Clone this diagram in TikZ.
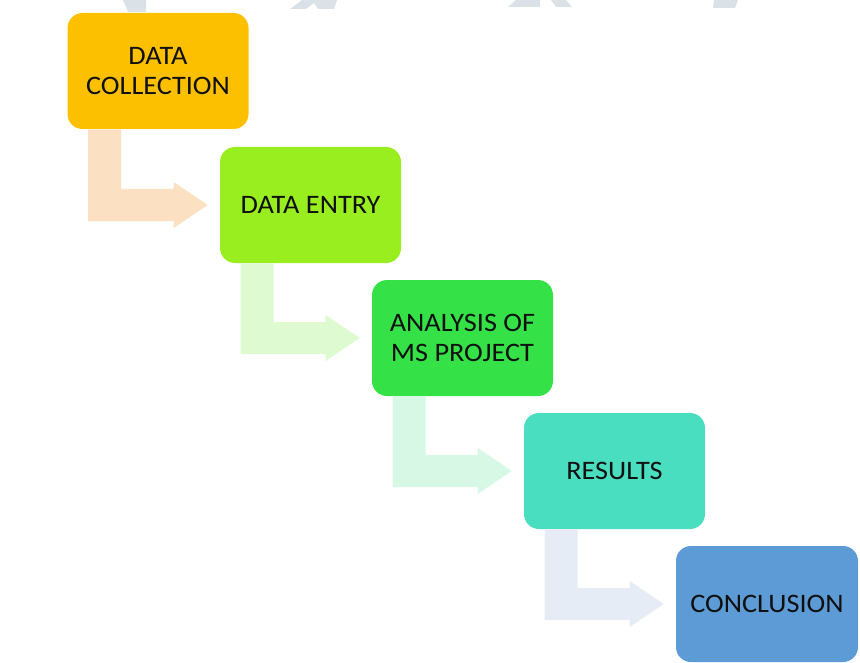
\documentclass[tikz,border=0pt]{standalone}
\usepackage{fontspec}
\setmainfont{Carlito}[FakeStretch=1.06]
\usetikzlibrary{calc}
\definecolor{cOne}{RGB}{252,192,0}
\definecolor{cTwo}{RGB}{152,238,30}
\definecolor{cThree}{RGB}{52,226,72}
\definecolor{cFour}{RGB}{74,222,192}
\definecolor{cFive}{RGB}{92,155,213}
\definecolor{aOne}{RGB}{252,224,194}
\definecolor{aTwo}{RGB}{222,250,208}
\definecolor{aThree}{RGB}{214,248,228}
\definecolor{aFour}{RGB}{230,236,246}
\definecolor{wmark}{RGB}{218,226,232}
\definecolor{txt}{RGB}{16,16,16}
\tikzset{
  stepbox/.style={rounded corners=15*0.75pt, minimum width=181*0.75pt, minimum height=116*0.75pt,
    inner sep=0pt, align=center, text=txt, font=\fontsize{20}{22.5}\selectfont},
}
\newcommand\flowarrow[3]{%
  \fill[#3] ($(#1.south west)+(21,0)$) |- ($(#2.west)+(-46,16)$)
    -- ($(#2.west)+(-46,23)$) -- ($(#2.west)+(-12,0)$) -- ($(#2.west)+(-46,-23)$)
    -- ($(#2.west)+(-46,-16)$) -| ($(#1.south west)+(54,0)$) -- cycle;}
\begin{document}
\begin{tikzpicture}[x=0.75pt,y=-0.75pt]
\useasboundingbox (0,0) rectangle (860,663);
% faint watermark at top
\fill[wmark] (123,0) -- (146,0) -- (146,12) -- (128,12) -- cycle;
\fill[wmark] (290,9) -- (302,0) -- (318,0) -- (306,9) -- cycle;
\fill[wmark] (312,0) -- (337,0) -- (334,9) -- (318,9) -- cycle;
\fill[wmark] (508,7) -- (516,0) -- (540,0) -- (540,7) -- cycle;
\fill[wmark] (551,0) -- (566,0) -- (572,7) -- (556,7) -- cycle;
\fill[wmark] (714,0) -- (738,0) -- (735,8) -- (713,8) -- cycle;
% boxes
\node[stepbox, fill=cOne]   (collect)  at (158,71)    {DATA\\COLLECTION};
\node[stepbox, fill=cTwo]   (entry)    at (310.5,205) {DATA ENTRY};
\node[stepbox, fill=cThree] (analysis) at (462.5,338) {ANALYSIS OF\\MS PROJECT};
\node[stepbox, fill=cFour]  (results)  at (614.5,471) {RESULTS};
\node[stepbox, fill=cFive, minimum width=182*0.75pt] (conclusion) at (767,604) {CONCLUSION};
% arrows
\flowarrow{collect}{entry}{aOne}
\flowarrow{entry}{analysis}{aTwo}
\flowarrow{analysis}{results}{aThree}
\flowarrow{results}{conclusion}{aFour}
\end{tikzpicture}
\end{document}
